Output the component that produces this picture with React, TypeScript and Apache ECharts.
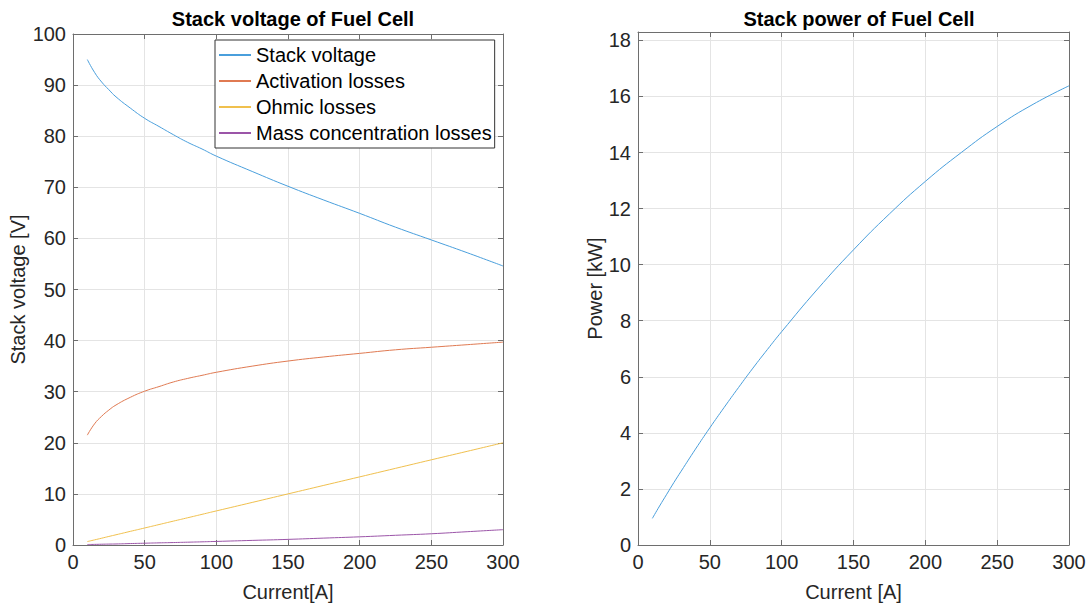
import React, { useEffect, useRef } from "react";
import * as echarts from "echarts";

// Stack current samples [A]
const currentA = [10, 15, 20, 25, 30, 40, 50, 60, 70, 80, 90, 100, 125, 150, 175, 200, 225, 250, 275, 300];

// Voltage curves [V]
const stackVoltage = [95.0, 92.5, 90.6, 89.1, 87.7, 85.5, 83.5, 81.9, 80.3, 78.8, 77.5, 76.1, 73.1, 70.2, 67.5, 64.9, 62.2, 59.7, 57.2, 54.6];
const activationLosses = [21.5, 23.7, 25.2, 26.4, 27.4, 28.9, 30.1, 31.0, 31.9, 32.6, 33.2, 33.8, 35.0, 36.0, 36.8, 37.5, 38.2, 38.7, 39.2, 39.7];
const ohmicLosses = [0.67, 1.0, 1.33, 1.67, 2.0, 2.67, 3.33, 4.0, 4.67, 5.33, 6.0, 6.67, 8.33, 10.0, 11.67, 13.33, 15.0, 16.67, 18.33, 20.0];
const massLosses = [0.1, 0.12, 0.15, 0.18, 0.2, 0.28, 0.35, 0.42, 0.48, 0.55, 0.62, 0.7, 0.9, 1.1, 1.35, 1.6, 1.9, 2.2, 2.6, 3.0];

// Stack power [kW]
const stackPower = [0.95, 1.39, 1.81, 2.23, 2.63, 3.42, 4.18, 4.91, 5.62, 6.31, 6.97, 7.61, 9.13, 10.53, 11.81, 12.97, 14.0, 14.93, 15.72, 16.38];

const FONT = "Liberation Sans, Arial, Helvetica, sans-serif";
const BOX = "#6e6e6e";
const GRIDLINE = "#e4e4e4";
const LABEL = "#262626";
const FS = 20;

const pairs = (ys: number[]) => currentA.map((x, i) => [x, ys[i]]);

function baseAxis(extra: any) {
  return {
    axisLine: { show: true, onZero: false, lineStyle: { color: BOX, width: 1 } },
    axisTick: { show: true, inside: true, length: 5, lineStyle: { color: BOX } },
    splitLine: { show: false },
    axisLabel: { show: false },
    ...extra,
  };
}

function mainAxis(extra: any) {
  return baseAxis({
    splitLine: { show: true, lineStyle: { color: GRIDLINE, width: 1 } },
    axisLabel: { show: true, color: LABEL, fontSize: FS, fontFamily: FONT, margin: 7 },
    nameTextStyle: { color: LABEL, fontSize: FS, fontFamily: FONT },
    nameLocation: "middle",
    ...extra,
  });
}

function lineSeries(name: string, data: number[], color: string, xi: number, yi: number) {
  return {
    name,
    type: "line",
    xAxisIndex: xi,
    yAxisIndex: yi,
    data: pairs(data),
    smooth: true,
    symbol: "none",
    showSymbol: false,
    lineStyle: { color, width: 1 },
    itemStyle: { color },
  };
}

export default function App() {
  const ref = useRef<HTMLDivElement>(null);

  useEffect(() => {
    if (!ref.current) return;
    const chart = echarts.init(ref.current, null, { renderer: "svg" });
    chart.setOption({
      animation: false,
      backgroundColor: "#ffffff",
      title: [
        {
          text: "Stack voltage of Fuel Cell",
          left: 288,
          top: 4,
          textAlign: "center",
          textStyle: { fontSize: 20, fontWeight: "bold", color: "#000", fontFamily: FONT },
        },
        {
          text: "Stack power of Fuel Cell",
          left: 854,
          top: 4,
          textAlign: "center",
          textStyle: { fontSize: 20, fontWeight: "bold", color: "#000", fontFamily: FONT },
        },
      ],
      legend: {
        left: 215,
        top: 40,
        orient: "vertical",
        data: ["Stack voltage", "Activation losses", "Ohmic losses", "Mass concentration losses"],
        itemWidth: 32,
        itemHeight: 2,
        itemGap: 6,
        padding: [5, 3, 5, 3],
        borderColor: "#333",
        borderWidth: 1,
        backgroundColor: "#ffffff",
        textStyle: { fontSize: FS, fontFamily: FONT, color: "#000", lineHeight: 20 },
      },
      grid: [
        { left: 73, right: 589, top: 34, bottom: 63 },
        { left: 638, right: 23, top: 32, bottom: 63 },
      ],
      xAxis: [
        mainAxis({ type: "value", gridIndex: 0, min: 0, max: 300, interval: 50, position: "bottom", name: "Current[A]", nameGap: 37 }),
        baseAxis({ type: "value", gridIndex: 0, min: 0, max: 300, interval: 50, position: "top" }),
        mainAxis({ type: "value", gridIndex: 1, min: 0, max: 300, interval: 50, position: "bottom", name: "Current [A]", nameGap: 37 }),
        baseAxis({ type: "value", gridIndex: 1, min: 0, max: 300, interval: 50, position: "top" }),
      ],
      yAxis: [
        mainAxis({ type: "value", gridIndex: 0, min: 0, max: 100, interval: 10, position: "left", name: "Stack voltage [V]", nameGap: 45 }),
        baseAxis({ type: "value", gridIndex: 0, min: 0, max: 100, interval: 10, position: "right" }),
        mainAxis({
          type: "value",
          gridIndex: 1,
          min: 0,
          max: 18.3,
          interval: 2,
          position: "left",
          name: "Power [kW]",
          nameGap: 33,
          axisLabel: {
            show: true,
            color: LABEL,
            fontSize: FS,
            fontFamily: FONT,
            margin: 7,
            formatter: (v: number) => (Math.abs(v % 2) < 1e-9 ? String(v) : ""),
          },
        }),
        baseAxis({ type: "value", gridIndex: 1, min: 0, max: 18.3, interval: 2, position: "right" }),
      ],
      series: [
        lineSeries("Stack voltage", stackVoltage, "#4a9fdc", 0, 0),
        lineSeries("Activation losses", activationLosses, "#e07a52", 0, 0),
        lineSeries("Ohmic losses", ohmicLosses, "#f0c04e", 0, 0),
        lineSeries("Mass concentration losses", massLosses, "#9b55a8", 0, 0),
        lineSeries("Stack power", stackPower, "#4a9fdc", 2, 2),
      ],
    });
    return () => chart.dispose();
  }, []);

  return (
    <div
      ref={ref}
      style={{ position: "fixed", left: 0, top: 0, width: 1092, height: 608, background: "#fff" }}
    />
  );
}
